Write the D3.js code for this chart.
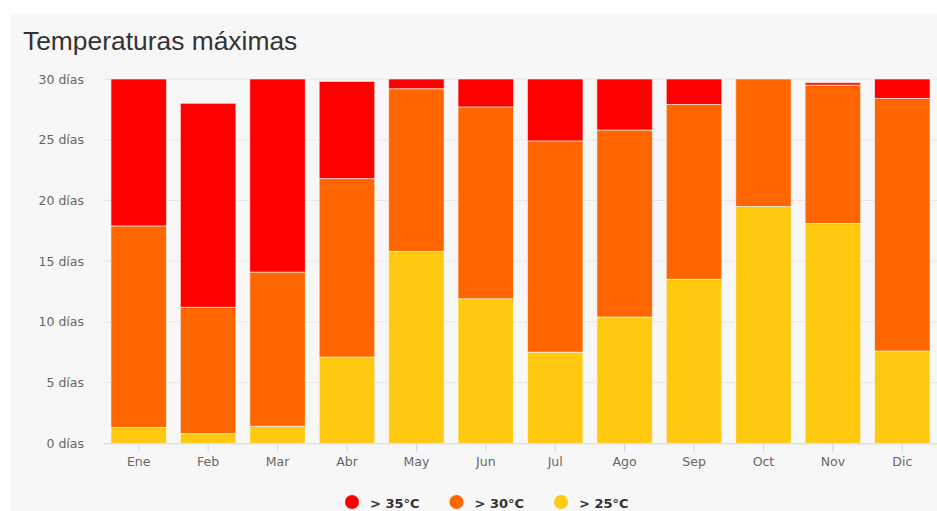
<!DOCTYPE html>
<html>
<head>
<meta charset="utf-8">
<script src="https://cdn.jsdelivr.net/npm/d3@7"></script>
<style>
html,body{margin:0;padding:0;background:#fff;}
svg{display:block;}
</style>
</head>
<body>
<svg id="chart" width="937" height="511"></svg>
<script>
const months = ["Ene","Feb","Mar","Abr","May","Jun","Jul","Ago","Sep","Oct","Nov","Dic"];
const over25 = [1.3, 0.8, 1.4, 7.1, 15.8, 11.9, 7.5, 10.4, 13.5, 19.5, 18.1, 7.6];
const over30 = [16.6, 10.4, 12.7, 14.7, 13.4, 15.8, 17.4, 15.4, 14.4, 10.5, 11.4, 20.8];
const over35 = [12.1, 16.8, 15.9, 8.0, 0.8, 2.3, 5.1, 4.2, 2.1, 0, 0.2, 1.6];
const yTicks = [0, 5, 10, 15, 20, 25, 30];
const seriesKeys = ["t25", "t30", "t35"];
const seriesLabels = ["> 25°C", "> 30°C", "> 35°C"];
const seriesColors = ["#fec90f", "#ff6600", "#ff0000"];
const legendOrder = [2, 1, 0];

(function () {
const svg = d3.select("#chart");
const W = 937, H = 511;
const pLeft = 104, pRight = 937, pTop = 79, pBottom = 443.3;

svg.append("rect").attr("x", 10).attr("y", 14).attr("width", W - 10).attr("height", H - 14).attr("fill", "#f7f7f7");

svg.append("text").attr("x", 23).attr("y", 50)
  .attr("font-family", "'Liberation Sans', Arial, sans-serif")
  .attr("font-size", 26.4).attr("fill", "#333")
  .text("Temperaturas máximas");

const x = d3.scaleBand().domain(months).range([pLeft, pRight]).paddingInner(0.2).paddingOuter(0.1);
const y = d3.scaleLinear().domain([0, 30]).range([pBottom, pTop]);

// gridlines
svg.append("g").selectAll("line").data(yTicks.filter(d => d > 0)).join("line")
  .attr("x1", pLeft).attr("x2", pRight)
  .attr("y1", d => y(d)).attr("y2", d => y(d))
  .attr("stroke", "#e6e6e6").attr("stroke-width", 1);

// y labels
const yAxis = d3.axisLeft(y).tickValues(yTicks).tickSize(0).tickPadding(0).tickFormat(d => d + " días");
const yg = svg.append("g").attr("transform", `translate(84,0)`).call(yAxis);
yg.select(".domain").remove();
yg.selectAll("text").attr("font-family", "'DejaVu Sans', Verdana, sans-serif").attr("font-size", 12.5).attr("fill", "#666");

// stacked bars
const rows = months.map((m, i) => ({ month: m, t25: over25[i], t30: over30[i], t35: over35[i] }));
const stack = d3.stack().keys(seriesKeys)(rows);
svg.append("g").selectAll("g").data(stack).join("g")
  .attr("fill", (d, i) => seriesColors[i])
  .selectAll("rect").data(d => d).join("rect")
  .attr("x", d => x(d.data.month))
  .attr("width", x.bandwidth())
  .attr("y", d => y(d[1]))
  .attr("height", d => Math.max(0, y(d[0]) - y(d[1])))
  .attr("stroke", "rgba(255,255,255,0.6)").attr("stroke-width", 1);

// x axis
const xAxis = d3.axisBottom(x).tickSize(9).tickPadding(5);
const xg = svg.append("g").attr("transform", `translate(0,${pBottom})`).call(xAxis);
xg.select(".domain").attr("stroke", "#ccd6eb").attr("d", `M${pLeft},0.5H${pRight}`);
xg.selectAll(".tick line").attr("stroke", "#ccd6eb");
xg.selectAll("text").attr("font-family", "'DejaVu Sans', Verdana, sans-serif").attr("font-size", 12.5).attr("fill", "#666");

// legend
const lg = svg.append("g");
legendOrder.forEach((si, k) => {
  const cx = 352 + k * 104.5;
  lg.append("circle").attr("cx", cx).attr("cy", 502).attr("r", 7).attr("fill", seriesColors[si]);
  lg.append("text").attr("x", cx + 18).attr("y", 508)
    .attr("font-family", "'DejaVu Sans', Verdana, sans-serif").attr("font-size", 13).attr("font-weight", "bold").attr("fill", "#333")
    .text(seriesLabels[si]);
});
})();
</script>
</body>
</html>
